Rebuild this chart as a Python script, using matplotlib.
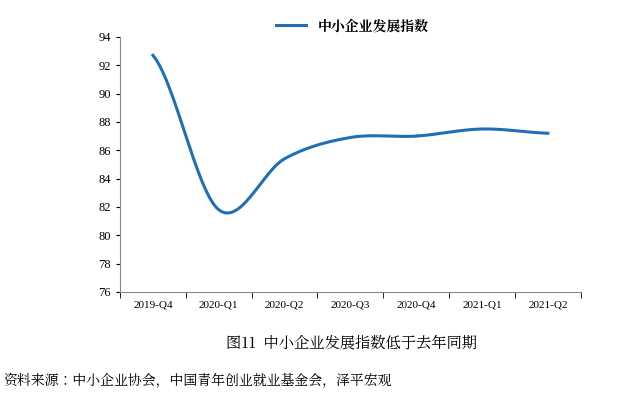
import matplotlib.pyplot as plt
from matplotlib import font_manager
import numpy as np

# find an installed CJK font
cjk = None
for f in font_manager.findSystemFonts():
    if "CJK" in f or "cjk" in f.lower():
        font_manager.fontManager.addfont(f)
        cjk = font_manager.FontProperties(fname=f).get_name()
        if "SC" in f or "sc" in cjk:
            break
names = [n for n in [cjk, "Noto Sans CJK SC", "Noto Sans CJK JP"] if n]
plt.rcParams["font.family"] = names + ["DejaVu Sans"]

quarters = ["2019-Q4", "2020-Q1", "2020-Q2", "2020-Q3", "2020-Q4", "2021-Q1", "2021-Q2"]
index_vals = [92.7, 81.8, 85.4, 86.9, 87.0, 87.5, 87.2]
yticks = [76, 78, 80, 82, 84, 86, 88, 90, 92, 94]

# Catmull-Rom smoothing for drawing only
x = np.arange(len(index_vals))
y = np.array(index_vals)
xs, ys = [], []
for i in range(len(x) - 1):
    p0 = y[max(i - 1, 0)]
    p1, p2 = y[i], y[i + 1]
    p3 = y[min(i + 2, len(y) - 1)]
    t = np.linspace(0, 1, 30)
    seg = 0.5 * ((2 * p1) + (-p0 + p2) * t + (2 * p0 - 5 * p1 + 4 * p2 - p3) * t**2
                 + (-p0 + 3 * p1 - 3 * p2 + p3) * t**3)
    xs.extend(x[i] + t)
    ys.extend(seg)

fig = plt.figure(figsize=(6.4, 4.01), dpi=100)
ax = fig.add_axes([0.1875, 0.272, 0.72, 0.636])
ax.plot(xs, ys, color="#1f6fb5", lw=2.2, label="中小企业发展指数")
ax.set_xlim(-0.5, len(x) - 0.5)
ax.set_ylim(76, 94)
ax.set_yticks(yticks)
ax.set_xticks(x)
ax.set_xticklabels(quarters, fontsize=8, family="Liberation Serif")
ax.tick_params(axis="y", labelsize=9, direction="out", length=3)
ax.tick_params(axis="x", length=0, pad=6)
for lab in ax.get_yticklabels():
    lab.set_family("Liberation Serif")
ax.set_xticks(np.arange(-0.5, len(x), 1), minor=True)
ax.tick_params(axis="x", which="minor", length=4, direction="out")
for s in ["top", "right"]:
    ax.spines[s].set_visible(False)
ax.spines["left"].set_color("#888888")
ax.spines["bottom"].set_color("#888888")

fig.legend(loc="center", bbox_to_anchor=(0.55, 0.935), frameon=False,
           prop={"family": names, "size": 10, "weight": "bold"}, handlelength=2.2)
fig.text(0.55, 0.145, "图11  中小企业发展指数低于去年同期", ha="center", va="center",
         fontsize=11, family=names)
fig.text(0.005, 0.05, "资料来源：中小企业协会，中国青年创业就业基金会，泽平宏观", ha="left",
         va="center", fontsize=10, family=names)
fig.savefig("out.png", dpi=100)
